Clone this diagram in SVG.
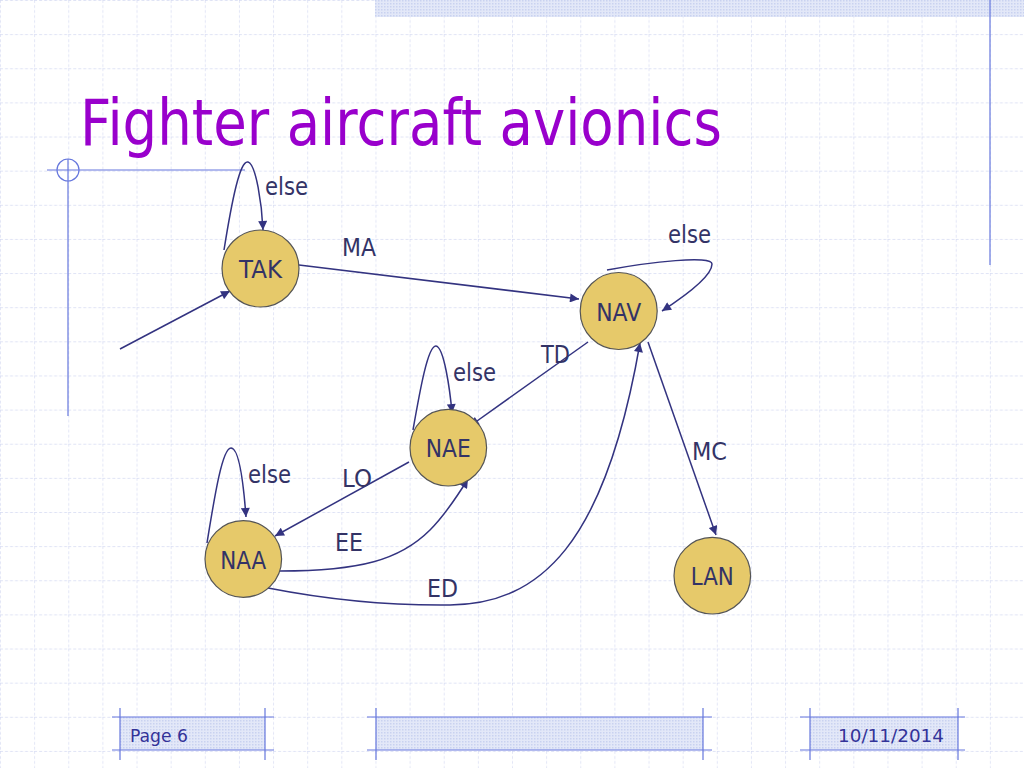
<svg xmlns="http://www.w3.org/2000/svg" width="1024" height="768" viewBox="0 0 1024 768">
<defs>
<pattern id="grid" x="0" y="0" width="34.1333" height="34.1333" patternUnits="userSpaceOnUse">
<path d="M0,0 V34.1333 M0,0 H34.1333" fill="none" stroke="#d5daf2" stroke-width="1.3" stroke-dasharray="3,2"/>
</pattern>
<pattern id="dots" x="0" y="0" width="3" height="3" patternUnits="userSpaceOnUse">
<rect width="3" height="3" fill="#e3e8f8"/>
<rect width="1.5" height="1.5" fill="#c9d2f0"/>
</pattern>
<marker id="arr" viewBox="0 0 10 10" refX="10" refY="5" markerWidth="10" markerHeight="9" markerUnits="userSpaceOnUse" orient="auto">
<path d="M0,0 L10,5 L0,10 Z" fill="#333380"/>
</marker>
<style>
.node{fill:#e6c96a;stroke:#555555;stroke-width:1.2}
.nt{font-family:'DejaVu Sans',sans-serif;font-size:24px;fill:#333366;text-anchor:middle}
.lbl{font-family:'DejaVu Sans',sans-serif;font-size:24px;fill:#333366}
.edge{fill:none;stroke:#333380;stroke-width:1.5;marker-end:url(#arr)}
.deco{stroke:#6677dd;stroke-width:1.2;fill:none}
.foot{font-family:'DejaVu Sans',sans-serif;font-size:18px;fill:#333399}
</style>
</defs>
<rect width="1024" height="768" fill="#ffffff"/>
<rect width="1024" height="768" fill="url(#grid)"/>
<g id="decoration">
<rect x="375" y="0" width="649" height="17" fill="url(#dots)"/>
<line class="deco" x1="990" y1="0" x2="990" y2="265"/>
<line class="deco" x1="47" y1="170" x2="245" y2="170"/>
<line class="deco" x1="68" y1="159" x2="68" y2="416"/>
<circle class="deco" cx="68" cy="170" r="11"/>
</g>
<text x="80" y="145" font-family="'DejaVu Sans',sans-serif" font-size="64" fill="#9900cc" textLength="642" lengthAdjust="spacingAndGlyphs">Fighter aircraft avionics</text>
<g id="connectors">
<path class="edge" d="M120,349 L230,291"/>
<path class="edge" d="M224,250 C232,200 240,160 248,162 C256,164 262,205 263,230"/>
<path class="edge" d="M299,265 L579,299"/>
<path class="edge" d="M607,270 C650,262 712,255 712,264 C712,276 685,296 662,311"/>
<path class="edge" d="M588,342 L470,426"/>
<path class="edge" d="M413,430 C420,390 428,345 436,346 C444,347 450,390 452,413"/>
<path class="edge" d="M409,462 L275,536"/>
<path class="edge" d="M207,543 C214,500 222,448 231,448 C240,448 244,490 246,517"/>
<path class="edge" d="M280,571 C360,571 400,560 430,530 C445,515 458,495 468,479"/>
<path class="edge" d="M268,588 Q360,606 450,605 C540,604 605,545 640,343"/>
<path class="edge" d="M648,342 L716,535"/>
</g>
<g id="edge-labels">
<text class="lbl" x="265" y="195" textLength="43" lengthAdjust="spacingAndGlyphs">else</text>
<text class="lbl" x="342" y="256" textLength="34" lengthAdjust="spacingAndGlyphs">MA</text>
<text class="lbl" x="668" y="243" textLength="43" lengthAdjust="spacingAndGlyphs">else</text>
<text class="lbl" x="541" y="363" textLength="29" lengthAdjust="spacingAndGlyphs">TD</text>
<text class="lbl" x="453" y="381" textLength="43" lengthAdjust="spacingAndGlyphs">else</text>
<text class="lbl" x="342" y="487" textLength="30" lengthAdjust="spacingAndGlyphs">LO</text>
<text class="lbl" x="248" y="483" textLength="43" lengthAdjust="spacingAndGlyphs">else</text>
<text class="lbl" x="335" y="551" textLength="28" lengthAdjust="spacingAndGlyphs">EE</text>
<text class="lbl" x="427" y="597" textLength="31" lengthAdjust="spacingAndGlyphs">ED</text>
<text class="lbl" x="692" y="460" textLength="35" lengthAdjust="spacingAndGlyphs">MC</text>
</g>
<g id="node-TAK"><circle class="node" cx="260.5" cy="268.5" r="38.5"/><text class="nt" x="260.5" y="278" textLength="43" lengthAdjust="spacingAndGlyphs">TAK</text></g>
<g id="node-NAV"><circle class="node" cx="618.7" cy="311" r="38.5"/><text class="nt" x="618.7" y="320.5" textLength="45" lengthAdjust="spacingAndGlyphs">NAV</text></g>
<g id="node-NAE"><circle class="node" cx="448.3" cy="447.7" r="38.3"/><text class="nt" x="448.3" y="457" textLength="45" lengthAdjust="spacingAndGlyphs">NAE</text></g>
<g id="node-NAA"><circle class="node" cx="243.3" cy="559" r="38.3"/><text class="nt" x="243.3" y="568.5" textLength="46" lengthAdjust="spacingAndGlyphs">NAA</text></g>
<g id="node-LAN"><circle class="node" cx="712.3" cy="575.7" r="38.3"/><text class="nt" x="712.3" y="585" textLength="43" lengthAdjust="spacingAndGlyphs">LAN</text></g>
<g id="footer">
<rect x="120" y="717" width="145" height="33" fill="url(#dots)"/>
<rect x="376" y="717" width="327" height="33" fill="url(#dots)"/>
<rect x="810" y="717" width="148" height="33" fill="url(#dots)"/>
<path class="deco" d="M112,717 H274 M112,750 H274 M120,708 V760 M265,708 V760"/>
<path class="deco" d="M367,717 H712 M367,750 H712 M376,708 V760 M703,708 V760"/>
<path class="deco" d="M800,717 H965 M800,750 H965 M810,708 V760 M958,708 V760"/>
<text class="foot" x="130" y="742" textLength="58" lengthAdjust="spacingAndGlyphs">Page 6</text>
<text class="foot" x="838" y="742" textLength="106" lengthAdjust="spacingAndGlyphs">10/11/2014</text>
</g>
</svg>
